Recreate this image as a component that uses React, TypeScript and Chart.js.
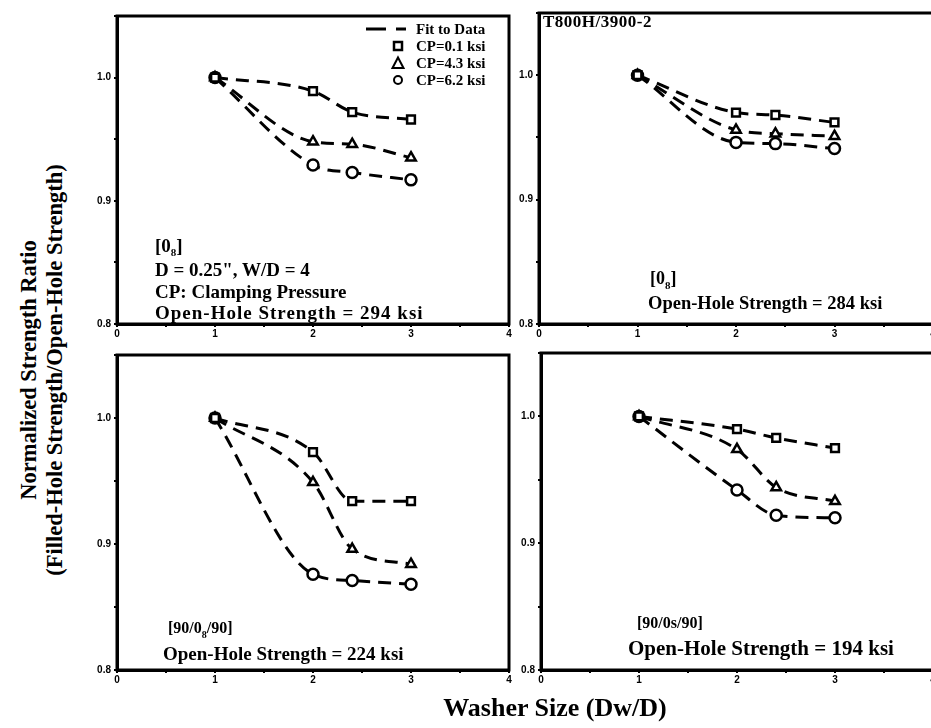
import React, { useEffect, useRef } from "react";
import { Chart, registerables } from "chart.js";

Chart.register(...registerables);

// ---------- data ----------
const washerSize = [1, 2, 2.4, 3];
const xTickLabels = ["0", "1", "2", "3", "4"];
const yTickLabels = ["0.8", "0.9", "1.0"];
const seriesNames = ["CP=0.1 ksi", "CP=4.3 ksi", "CP=6.2 ksi"];

// [0_8], T800H/3900-2 panel (top-left)
const tlCp01 = [1.0, 0.989, 0.972, 0.966];
const tlCp43 = [1.0, 0.948, 0.946, 0.935];
const tlCp62 = [1.0, 0.929, 0.923, 0.917];

// [0_8] panel (top-right)
const trCp01 = [1.0, 0.97, 0.968, 0.962];
const trCp43 = [1.0, 0.956, 0.953, 0.951];
const trCp62 = [1.0, 0.946, 0.945, 0.941];

// [90/0_8/90] panel (bottom-left)
const blCp01 = [1.0, 0.973, 0.934, 0.934];
const blCp43 = [1.0, 0.949, 0.896, 0.884];
const blCp62 = [1.0, 0.876, 0.871, 0.868];

// [90/0s/90] panel (bottom-right)
const brCp01 = [1.0, 0.99, 0.983, 0.975];
const brCp43 = [1.0, 0.974, 0.944, 0.933];
const brCp62 = [1.0, 0.942, 0.922, 0.92];

// ---------- layout ----------
type Area = { l: number; t: number; r: number; b: number };
const YW = 24;
const XH = 16;
const PAD = 14;
const SERIF = "'Liberation Serif', 'Times New Roman', serif";
const SANS = "'Liberation Sans', Arial, sans-serif";

const framePlugin = {
  id: "frame",
  afterDraw(chart: any) {
    const { ctx, chartArea } = chart;
    ctx.save();
    ctx.strokeStyle = "#000";
    ctx.lineWidth = 3;
    ctx.strokeRect(chartArea.left, chartArea.top, chartArea.right - chartArea.left, chartArea.bottom - chartArea.top);
    ctx.restore();
  },
};

function Panel({ area, series }: { area: Area; series: number[][] }) {
  const ref = useRef<HTMLCanvasElement>(null);
  const width = area.r - area.l + YW + 2 * PAD;
  const height = area.b - area.t + XH + 2 * PAD;

  useEffect(() => {
    const styles = ["rect", "triangle", "circle"];
    const chart = new Chart(ref.current as HTMLCanvasElement, {
      type: "scatter",
      data: {
        datasets: series.map((vals, i) => ({
          label: seriesNames[i],
          data: washerSize.map((x, j) => ({ x, y: vals[j] })),
          showLine: true,
          borderColor: "#000",
          borderWidth: 3,
          borderDash: [13, 8],
          cubicInterpolationMode: "monotone",
          pointStyle: styles[i],
          pointRadius: 5.5,
          pointBackgroundColor: "#fff",
          pointBorderColor: "#000",
          pointBorderWidth: 2.5,
          clip: false,
        })) as any,
      },
      options: {
        responsive: false,
        animation: false,
        layout: { padding: { left: PAD, right: PAD, top: PAD, bottom: PAD } },
        plugins: { legend: { display: false }, tooltip: { enabled: false } },
        scales: {
          x: {
            type: "linear",
            min: 0,
            max: 4,
            afterFit: (s: any) => {
              s.height = XH;
            },
            ticks: {
              stepSize: 0.5,
              autoSkip: false,
              maxRotation: 0,
              padding: 1,
              color: "#000",
              font: { family: SANS, size: 10, weight: "bold" },
              callback: (v: any) => {
                const n = Number(v);
                return Number.isInteger(n) ? xTickLabels[n] : "";
              },
            },
            grid: { drawOnChartArea: false, drawTicks: true, tickLength: 3, color: "#000", lineWidth: 2 },
            border: { color: "#000", width: 3 },
          },
          y: {
            type: "linear",
            min: 0.8,
            max: 1.05,
            afterFit: (s: any) => {
              s.width = YW;
            },
            ticks: {
              stepSize: 0.05,
              autoSkip: false,
              padding: 3,
              color: "#000",
              font: { family: SANS, size: 10, weight: "bold" },
              callback: (v: any) => {
                const r = Math.round(Number(v) * 100);
                if (r % 10 === 0 && r >= 80 && r <= 100) return yTickLabels[(r - 80) / 10];
                return "";
              },
            },
            grid: { drawOnChartArea: false, drawTicks: true, tickLength: 3, color: "#000", lineWidth: 2 },
            border: { color: "#000", width: 3 },
          },
        },
      },
      plugins: [framePlugin],
    });
    return () => chart.destroy();
  }, []);

  return (
    <canvas
      ref={ref}
      width={width}
      height={height}
      style={{ position: "absolute", left: area.l - YW - PAD, top: area.t - PAD, width, height }}
    />
  );
}

function Txt({ x, y, size, children, spacing = 0, family = SERIF }: any) {
  return (
    <div
      style={{
        position: "absolute",
        left: x,
        top: y,
        transform: "translateY(-50%)",
        fontFamily: family,
        fontWeight: "bold",
        fontSize: size,
        letterSpacing: spacing,
        whiteSpace: "nowrap",
        lineHeight: 1,
        color: "#000",
      }}
    >
      {children}
    </div>
  );
}

function LegendMark({ x, y, kind }: { x: number; y: number; kind: string }) {
  return (
    <svg style={{ position: "absolute", left: x - 8, top: y - 8 }} width={16} height={16}>
      {kind === "rect" && <rect x={4} y={4} width={8} height={8} fill="#fff" stroke="#000" strokeWidth={2.5} />}
      {kind === "triangle" && <polygon points="8,2.5 13.5,13 2.5,13" fill="#fff" stroke="#000" strokeWidth={2} />}
      {kind === "circle" && <circle cx={8} cy={8} r={4} fill="#fff" stroke="#000" strokeWidth={2} />}
    </svg>
  );
}

export default function App() {
  const tl: Area = { l: 117, t: 16, r: 509, b: 324 };
  const tr: Area = { l: 539, t: 13, r: 933, b: 324 };
  const bl: Area = { l: 117, t: 355, r: 509, b: 670 };
  const br: Area = { l: 541, t: 353, r: 933, b: 670 };

  return (
    <div
      style={{
        position: "absolute",
        left: 0,
        top: 0,
        width: 931,
        height: 728,
        overflow: "hidden",
        background: "#fff",
      }}
    >
      <Panel area={tl} series={[tlCp01, tlCp43, tlCp62]} />
      <Panel area={tr} series={[trCp01, trCp43, trCp62]} />
      <Panel area={bl} series={[blCp01, blCp43, blCp62]} />
      <Panel area={br} series={[brCp01, brCp43, brCp62]} />

      {/* legend (top-left panel) */}
      <svg style={{ position: "absolute", left: 362, top: 22 }} width={50} height={14}>
        <line x1={4} y1={7} x2={44} y2={7} stroke="#000" strokeWidth={3} strokeDasharray="20 10" />
      </svg>
      <Txt x={416} y={29} size={15}>Fit to Data</Txt>
      <LegendMark x={398} y={46} kind="rect" />
      <Txt x={416} y={46} size={15}>{seriesNames[0]}</Txt>
      <LegendMark x={398} y={63} kind="triangle" />
      <Txt x={416} y={63} size={15}>{seriesNames[1]}</Txt>
      <LegendMark x={398} y={80} kind="circle" />
      <Txt x={416} y={80} size={15}>{seriesNames[2]}</Txt>

      {/* top-left annotations */}
      <Txt x={155} y={247} size={19}>
        [0<sub style={{ fontSize: 11 }}>8</sub>]
      </Txt>
      <Txt x={155} y={269} size={19}>D = 0.25", W/D = 4</Txt>
      <Txt x={155} y={291} size={19}>CP: Clamping Pressure</Txt>
      <Txt x={155} y={312} size={19} spacing={1}>Open-Hole Strength = 294 ksi</Txt>

      {/* top-right annotations */}
      <Txt x={543} y={21} size={17} spacing={0.5}>T800H/3900-2</Txt>
      <Txt x={650} y={280} size={18}>
        [0<sub style={{ fontSize: 11 }}>8</sub>]
      </Txt>
      <Txt x={648} y={303} size={18.5}>Open-Hole Strength = 284 ksi</Txt>

      {/* bottom-left annotations */}
      <Txt x={168} y={630} size={16}>
        [90/0<sub style={{ fontSize: 10 }}>8</sub>/90]
      </Txt>
      <Txt x={163} y={653} size={19}>Open-Hole Strength = 224 ksi</Txt>

      {/* bottom-right annotations */}
      <Txt x={637} y={623} size={16}>[90/0s/90]</Txt>
      <Txt x={628} y={648} size={21}>Open-Hole Strength = 194 ksi</Txt>

      {/* axis titles */}
      <div
        style={{
          position: "absolute",
          left: 42,
          top: 370,
          transform: "translate(-50%, -50%) rotate(-90deg)",
          fontFamily: SERIF,
          fontWeight: "bold",
          fontSize: 22.5,
          lineHeight: "26px",
          textAlign: "center",
          whiteSpace: "nowrap",
          color: "#000",
        }}
      >
        Normalized Strength Ratio
        <br />
        (Filled-Hole Strength/Open-Hole Strength)
      </div>
      <div
        style={{
          position: "absolute",
          left: 555,
          top: 708,
          transform: "translate(-50%, -50%)",
          fontFamily: SERIF,
          fontWeight: "bold",
          fontSize: 26,
          lineHeight: 1,
          whiteSpace: "nowrap",
          color: "#000",
        }}
      >
        Washer Size (Dw/D)
      </div>
    </div>
  );
}
